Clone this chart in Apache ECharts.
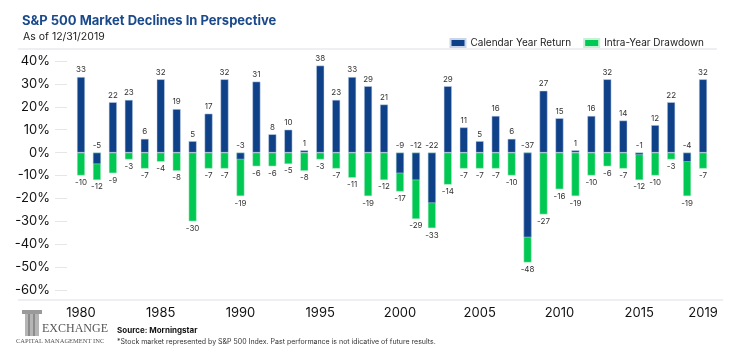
<!DOCTYPE html>
<html>
<head>
<meta charset="utf-8">
<script src="https://cdn.jsdelivr.net/npm/echarts@6/dist/echarts.min.js"></script>
<style>
  html, body { margin: 0; padding: 0; background: #fff; }
  #main { width: 737px; height: 350px; }
</style>
</head>
<body>
<div id="main"></div>
<script>
var years = [];
for (var y = 1980; y <= 2019; y++) years.push(String(y));

// calendar year return (%)
var yearReturn = [33, -5, 22, 23, 6, 32, 19, 5, 17, 32,
  -3, 31, 8, 10, 1, 38, 23, 33, 29, 21,
  -9, -12, -22, 29, 11, 5, 16, 6, -37, 27,
  15, 1, 16, 32, 14, -1, 12, 22, -4, 32];

// intra-year drawdown (%)
var drawdown = [-10, -12, -9, -3, -7, -4, -8, -30, -7, -7,
  -19, -6, -6, -5, -8, -3, -7, -11, -19, -12,
  -17, -29, -33, -14, -7, -7, -7, -10, -48, -27,
  -16, -19, -10, -6, -7, -12, -10, -3, -19, -7];

var yTicks = [-60, -50, -40, -30, -20, -10, 0, 10, 20, 30, 40];

var BLUE = '#0f4189';
var GREEN = '#00c853';
var FONT = 'Inter, "Open Sans", sans-serif';

var chart = echarts.init(document.getElementById('main'), null, { renderer: 'canvas' });

var option = {
  animation: false,
  textStyle: { fontFamily: FONT },
  title: [{
    text: 'S&P 500 Market Declines In Perspective',
    left: 17, top: 10,
    textStyle: { fontSize: 13, fontWeight: 'bold', color: '#1b4a8c', fontFamily: FONT }
  }, {
    text: 'As of 12/31/2019',
    left: 18, top: 26,
    textStyle: { fontSize: 10.5, fontWeight: 'normal', color: '#222', fontFamily: FONT }
  }],
  legend: {
    data: ['Calendar Year Return', 'Intra-Year Drawdown'],
    right: 28, top: 33,
    itemWidth: 15, itemHeight: 8, itemGap: 12,
    icon: 'rect',
    textStyle: { fontSize: 10, color: '#222', fontFamily: FONT }
  },
  grid: { left: 73, right: 26, top: 61, bottom: 60 },
  xAxis: {
    type: 'category',
    data: years,
    axisLine: { show: false },
    axisTick: { show: false },
    axisLabel: {
      margin: 17,
      fontSize: 13,
      color: '#111',
      interval: function (i) { return i % 5 === 0 || i === years.length - 1; }
    }
  },
  yAxis: {
    type: 'value',
    min: yTicks[0], max: yTicks[yTicks.length - 1], interval: 10,
    offset: 18,
    axisLine: { show: false },
    axisTick: { show: true, inside: true, length: 12, lineStyle: { color: '#e6e6e6' } },
    splitLine: { show: false },
    axisLabel: { formatter: '{value}%', fontSize: 13, color: '#111', margin: 5 }
  },
  series: [{
    name: 'Intra-Year Drawdown',
    type: 'bar',
    barWidth: 8,
    barGap: '-100%',
    itemStyle: { color: GREEN, borderColor: '#c8f0d6', borderWidth: 0.5 },
    label: { show: true, position: 'bottom', distance: 3, fontSize: 8, color: '#333' },
    data: drawdown
  }, {
    name: 'Calendar Year Return',
    type: 'bar',
    barWidth: 8,
    barGap: '-100%',
    itemStyle: { color: BLUE, borderColor: '#c9d6ea', borderWidth: 0.5 },
    label: { show: true, position: 'top', distance: 3, fontSize: 8, color: '#333' },
    data: yearReturn
  }],
  graphic: [
    { type: 'rect', shape: { x: 18, y: 48, width: 699, height: 2 }, style: { fill: '#eeeff2' } },
    { type: 'rect', shape: { x: 18, y: 299, width: 705, height: 2 }, style: { fill: '#eeeff2' } },
    // logo column
    { type: 'rect', shape: { x: 22, y: 310, width: 20, height: 4 }, style: { fill: '#9a9a9a' } },
    { type: 'rect', shape: { x: 25, y: 314, width: 14, height: 22 }, style: { fill: '#b5b5b5' } },
    { type: 'rect', shape: { x: 28, y: 314, width: 2, height: 22 }, style: { fill: '#8c8c8c' } },
    { type: 'rect', shape: { x: 33, y: 314, width: 2, height: 22 }, style: { fill: '#8c8c8c' } },
    { type: 'text', left: 42, top: 323, style: { text: 'EXCHANGE', font: '12px "Liberation Serif", serif', fill: '#555' } },
    { type: 'text', left: 16, top: 338, style: { text: 'CAPITAL MANAGEMENT INC', font: '6.5px "Liberation Serif", serif', fill: '#555' } },
    { type: 'text', left: 117, top: 327, style: { text: 'Source: Morningstar', font: 'bold 8px ' + FONT, fill: '#111' } },
    { type: 'text', left: 117, top: 338, style: { text: '*Stock market represented by S&P 500 Index. Past performance is not idicative of future results.', font: '7px ' + FONT, fill: '#333' } }
  ]
};

chart.setOption(option);
</script>
</body>
</html>
